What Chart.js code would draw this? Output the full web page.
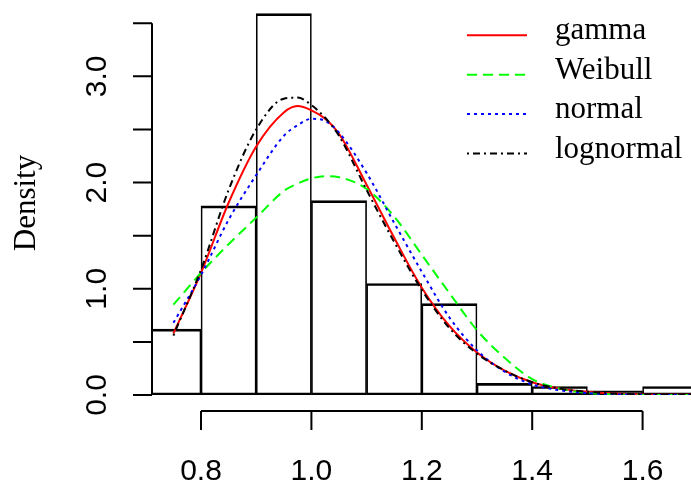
<!DOCTYPE html>
<html>
<head>
<meta charset="utf-8">
<script src="https://cdn.jsdelivr.net/npm/chart.js@4.4.0/dist/chart.umd.min.js"></script>
<style>
  html, body { margin: 0; padding: 0; background: #fff; }
  #wrap { width: 691px; height: 485px; }
</style>
</head>
<body>
<div id="wrap"><canvas id="hist-chart" width="691" height="485"></canvas></div>
<script>
// histogram bins (mid points) and densities
const binMids = [0.75, 0.85, 0.95, 1.05, 1.15, 1.25, 1.35, 1.45, 1.55, 1.65];
const binDensity = [0.62, 1.78, 3.59, 1.83, 1.05, 0.86, 0.11, 0.08, 0.04, 0.08];

// fitted density curves
const curveX = [0.75, 0.8, 0.85, 0.9, 0.95, 0.975, 1.0, 1.025, 1.05, 1.1, 1.15, 1.2, 1.25, 1.3, 1.35, 1.4, 1.45, 1.5, 1.55, 1.6, 1.65, 1.7];
const gammaY     = [0.58, 1.15, 1.81, 2.34, 2.66, 2.72, 2.68, 2.60, 2.46, 1.98, 1.48, 1.01, 0.65, 0.40, 0.23, 0.12, 0.06, 0.03, 0.013, 0.005, 0.002, 0.001];
const weibullY   = [0.85, 1.15, 1.42, 1.67, 1.92, 1.99, 2.04, 2.06, 2.05, 1.94, 1.68, 1.32, 0.96, 0.61, 0.35, 0.15, 0.06, 0.02, 0.005, 0.001, 0.0, 0.0];
const normalY    = [0.68, 1.13, 1.65, 2.07, 2.44, 2.54, 2.60, 2.58, 2.47, 2.09, 1.62, 1.16, 0.73, 0.42, 0.22, 0.10, 0.045, 0.018, 0.006, 0.002, 0.0, 0.0];
const lognormalY = [0.56, 1.18, 1.93, 2.50, 2.79, 2.80, 2.73, 2.61, 2.44, 1.93, 1.44, 0.99, 0.63, 0.39, 0.23, 0.12, 0.06, 0.03, 0.013, 0.006, 0.002, 0.001];

// axis ticks
const yTicks = [0, 0.5, 1, 1.5, 2, 2.5, 3, 3.5];
const yLabelValues = [0, 1, 2, 3];
const yLabels = ["0.0", "1.0", "2.0", "3.0"];
const xTicks = [0.8, 1.0, 1.2, 1.4, 1.6];
const xLabels = ["0.8", "1.0", "1.2", "1.4", "1.6"];

const SANS = "'Liberation Sans', Arial, sans-serif";
const SERIF = "'Liberation Serif', 'Times New Roman', serif";

function curve(ys) {
  return curveX.map((x, i) => ({ x: x, y: ys[i] }));
}

// R style axes drawn with the chart scales
const rAxes = {
  id: "rAxes",
  afterDraw(chart) {
    const ctx = chart.ctx;
    const xs = chart.scales.x;
    const ys = chart.scales.y;
    const left = chart.chartArea.left;
    ctx.save();
    ctx.strokeStyle = "#000";
    ctx.fillStyle = "#000";
    ctx.lineWidth = 2;

    // y axis
    ctx.beginPath();
    ctx.moveTo(left, ys.getPixelForValue(yTicks[0]));
    ctx.lineTo(left, ys.getPixelForValue(yTicks[yTicks.length - 1]));
    yTicks.forEach(function (v) {
      const py = ys.getPixelForValue(v);
      ctx.moveTo(left - 19, py);
      ctx.lineTo(left, py);
    });
    ctx.stroke();

    ctx.font = "30px " + SANS;
    ctx.textAlign = "center";
    ctx.textBaseline = "alphabetic";
    yLabels.forEach(function (lab, i) {
      ctx.save();
      ctx.translate(106, ys.getPixelForValue(yLabelValues[i]));
      ctx.rotate(-Math.PI / 2);
      ctx.fillText(lab, 0, 0);
      ctx.restore();
    });

    // x axis (detached, below the bars)
    const axisY = 411;
    ctx.beginPath();
    ctx.moveTo(xs.getPixelForValue(xTicks[0]), axisY);
    ctx.lineTo(xs.getPixelForValue(xTicks[xTicks.length - 1]), axisY);
    xTicks.forEach(function (v) {
      const px = xs.getPixelForValue(v);
      ctx.moveTo(px, axisY);
      ctx.lineTo(px, axisY + 19);
    });
    ctx.stroke();
    xLabels.forEach(function (lab, i) {
      ctx.fillText(lab, xs.getPixelForValue(xTicks[i]), 480);
    });

    // axis title
    ctx.font = "31px " + SERIF;
    ctx.save();
    ctx.translate(35, 203);
    ctx.rotate(-Math.PI / 2);
    ctx.fillText("Density", 0, 0);
    ctx.restore();

    // legend
    const lines = chart.data.datasets.filter(function (d) { return d.type === "line"; });
    ctx.textAlign = "left";
    lines.forEach(function (d, i) {
      const ly = 35.3 + i * 39.4;
      ctx.beginPath();
      ctx.strokeStyle = d.borderColor;
      ctx.lineWidth = 2;
      ctx.setLineDash(d.borderDash || []);
      ctx.moveTo(467, ly);
      ctx.lineTo(527, ly);
      ctx.stroke();
      ctx.setLineDash([]);
      ctx.fillStyle = "#000";
      ctx.fillText(d.label, 555, ly + 4);
    });
    ctx.restore();
  },
};

new Chart(document.getElementById("hist-chart"), {
  type: "line",
  data: {
    datasets: [
      {
        type: "bar",
        label: "hist",
        data: binMids.map((x, i) => ({ x: x, y: binDensity[i] })),
        backgroundColor: "rgba(0,0,0,0)",
        borderColor: "#000",
        borderWidth: { top: 2, bottom: 2, left: 1, right: 1 },
        borderSkipped: false,
        barPercentage: 1,
        categoryPercentage: 1,
        order: 10,
      },
      {
        type: "line",
        label: "gamma",
        data: curve(gammaY),
        borderColor: "#ff0000",
        borderWidth: 2,
        order: 4,
      },
      {
        type: "line",
        label: "Weibull",
        data: curve(weibullY),
        borderColor: "#00ff00",
        borderWidth: 2,
        borderDash: [10, 6],
        order: 3,
      },
      {
        type: "line",
        label: "normal",
        data: curve(normalY),
        borderColor: "#0000ff",
        borderWidth: 2,
        borderDash: [3, 4],
        order: 2,
      },
      {
        type: "line",
        label: "lognormal",
        data: curve(lognormalY),
        borderColor: "#000000",
        borderWidth: 2,
        borderDash: [2, 4, 7, 4],
        order: 1,
      },
    ],
  },
  options: {
    responsive: false,
    animation: false,
    devicePixelRatio: 1,
    layout: { padding: { left: 152, right: 0, top: 2, bottom: 90 } },
    elements: {
      point: { radius: 0 },
      line: { cubicInterpolationMode: "monotone", fill: false },
    },
    plugins: {
      legend: { display: false },
      tooltip: { enabled: false },
    },
    scales: {
      x: { type: "linear", min: 0.7112, max: 1.6877, offset: false, display: false },
      y: { type: "linear", min: 0, max: 3.7, display: false },
    },
  },
  plugins: [rAxes],
});
</script>
</body>
</html>
